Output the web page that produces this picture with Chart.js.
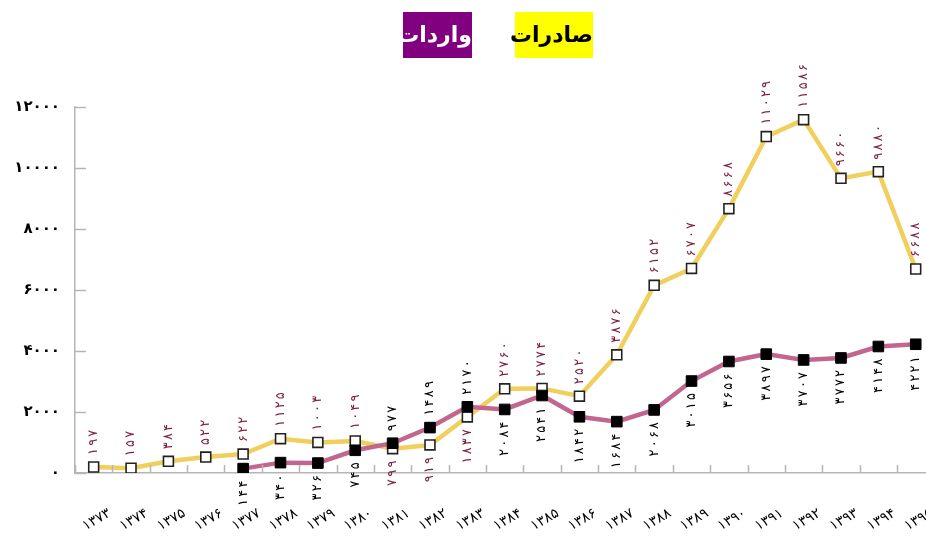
<!DOCTYPE html>
<html lang="fa">
<head>
<meta charset="utf-8">
<script src="https://cdn.jsdelivr.net/npm/chart.js@4/dist/chart.umd.min.js"></script>
<style>
  html, body { margin: 0; padding: 0; background: #ffffff; overflow: hidden; width: 926px; height: 538px; }
  #wrap { position: relative; width: 943px; height: 538px; }
  canvas { position: absolute; left: 0; top: 0; }
  .lg { position: absolute; top: 12px; height: 46px; line-height: 46px; text-align: center;
        font-family: "DejaVu Sans", sans-serif; font-weight: bold; font-size: 22px; direction: rtl; }
  #lgImp { left: 403px; width: 69px; background: #800080; color: #ffffff; }
  #lgExp { left: 515px; width: 78px; background: #ffff00; color: #000000; }
</style>
</head>
<body>
<div id="wrap">
  <canvas id="c" width="943" height="538"></canvas>
  <div class="lg" id="lgImp">واردات</div>
  <div class="lg" id="lgExp">صادرات</div>
</div>
<script>
// ---- data ----
const years = ['۱۳۷۳','۱۳۷۴','۱۳۷۵','۱۳۷۶','۱۳۷۷','۱۳۷۸','۱۳۷۹','۱۳۸۰','۱۳۸۱','۱۳۸۲','۱۳۸۳','۱۳۸۴',
               '۱۳۸۵','۱۳۸۶','۱۳۸۷','۱۳۸۸','۱۳۸۹','۱۳۹۰','۱۳۹۱','۱۳۹۲','۱۳۹۳','۱۳۹۴','۱۳۹۵'];
const exportsData = [197,157,384,522,622,1125,1003,1049,799,919,1837,2760,2774,2520,3876,6152,6707,8668,11029,11586,9660,9880,6688];
const importsData = [null,null,null,null,144,340,326,745,977,1489,2170,2084,2541,1842,1684,2068,3015,3656,3897,3707,3772,4148,4221];
const yTickValues = [0,2000,4000,6000,8000,10000,12000];
const yTickLabels = ['۰','۲۰۰۰','۴۰۰۰','۶۰۰۰','۸۰۰۰','۱۰۰۰۰','۱۲۰۰۰'];
const seriesNames = ['صادرات','واردات'];

const faDigits = '۰۱۲۳۴۵۶۷۸۹';
const toFa = n => String(n).replace(/\d/g, d => faDigits[d]);

const AXIS_GRAY = '#b5b5b5';

function spacedText(ctx, str, startX, gap) {
  let x = startX;
  for (const ch of str) {
    ctx.fillText(ch, x, 0);
    x += ctx.measureText(ch).width + gap;
  }
}
function spacedWidth(ctx, str, gap) {
  let w = 0, n = 0;
  for (const ch of str) { w += ctx.measureText(ch).width; n++; }
  return w + gap * (n - 1);
}

const decor = {
  id: 'decor',
  afterDraw(chart) {
    const ctx = chart.ctx;
    const xs = chart.scales.x, ys = chart.scales.y;
    const ca = chart.chartArea;
    ctx.save();
    ctx.strokeStyle = AXIS_GRAY;
    ctx.lineWidth = 1.5;
    // y tick marks pointing into chart
    yTickValues.forEach(v => {
      const y = Math.round(ys.getPixelForValue(v)) + 0.5;
      ctx.beginPath(); ctx.moveTo(ca.left, y); ctx.lineTo(ca.left + 11, y); ctx.stroke();
    });
    // x tick marks at category boundaries
    for (let i = 0; i <= years.length; i++) {
      const x = Math.round(xs.getPixelForValue(i - 0.5)) + 0.5;
      ctx.beginPath(); ctx.moveTo(x, ca.bottom); ctx.lineTo(x, ca.bottom - 8); ctx.stroke();
    }
    ctx.restore();

    // value labels
    const m0 = chart.getDatasetMeta(0), m1 = chart.getDatasetMeta(1);
    const GAP = 2.2;
    ctx.save();
    ctx.font = '13px "DejaVu Sans", sans-serif';
    ctx.textBaseline = 'middle';
    ctx.textAlign = 'left';
    years.forEach((yr, i) => {
      const e = exportsData[i], im = importsData[i];
      const items = [];
      if (e !== null) items.push({ v: e, el: m0.data[i], color: '#7a1f45' });
      if (im !== null) items.push({ v: im, el: m1.data[i], color: '#000000' });
      let hi = items[0];
      items.forEach(it => { if (it.v > hi.v) hi = it; });
      items.forEach(it => {
        const above = it === hi;
        const s = toFa(it.v);
        ctx.fillStyle = it.color;
        ctx.save();
        ctx.translate(it.el.x, above ? it.el.y - 12 : it.el.y + 12);
        ctx.rotate(-Math.PI / 2);
        const w = spacedWidth(ctx, s, GAP);
        spacedText(ctx, s, above ? 0 : -w, GAP);
        ctx.restore();
      });
    });
    ctx.restore();
  }
};

new Chart(document.getElementById('c'), {
  type: 'line',
  data: {
    labels: years,
    datasets: [
      {
        label: seriesNames[0],
        data: exportsData,
        borderColor: '#f1cf5c',
        borderWidth: 4.5,
        pointStyle: 'rect',
        pointRadius: 7,
        pointHoverRadius: 7,
        pointBackgroundColor: '#ffffff',
        pointBorderColor: '#222222',
        pointBorderWidth: 1.6,
        tension: 0,
        order: 2
      },
      {
        label: seriesNames[1],
        data: importsData,
        borderColor: '#c2668f',
        borderWidth: 4.5,
        pointStyle: 'rect',
        pointRadius: 7.5,
        pointHoverRadius: 7.5,
        pointBackgroundColor: '#000000',
        pointBorderColor: '#000000',
        pointBorderWidth: 1,
        tension: 0,
        spanGaps: false,
        order: 1
      }
    ]
  },
  options: {
    responsive: false,
    animation: false,
    layout: { padding: { top: 107, right: 0, left: 0, bottom: 0 } },
    plugins: { legend: { display: false }, tooltip: { enabled: false }, title: { display: false } },
    scales: {
      x: {
        type: 'category',
        offset: true,
        grid: { drawOnChartArea: false, drawTicks: false },
        border: { display: true, color: AXIS_GRAY, width: 1.5 },
        ticks: {
          autoSkip: false,
          minRotation: 30,
          maxRotation: 30,
          padding: 32,
          labelOffset: 16,
          color: '#000000',
          font: { family: '"DejaVu Sans", sans-serif', size: 14 }
        },
        afterFit(s) { s.height = 65; s.paddingLeft = 0; s.paddingRight = 0; }
      },
      y: {
        min: 0,
        max: 12000,
        afterBuildTicks(s) { s.ticks = yTickValues.map(v => ({ value: v })); },
        grid: { drawOnChartArea: false, drawTicks: false },
        border: { display: true, color: AXIS_GRAY, width: 1.5 },
        ticks: {
          padding: 15,
          color: '#000000',
          font: { family: '"DejaVu Sans", sans-serif', size: 15, weight: 'bold' },
          callback(v) { const k = yTickValues.indexOf(v); return k >= 0 ? yTickLabels[k] : ''; }
        },
        afterFit(s) { s.width = 75; }
      }
    }
  },
  plugins: [decor]
});
</script>
</body>
</html>
